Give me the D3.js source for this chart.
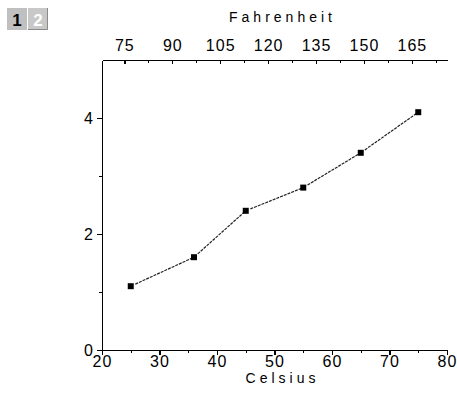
<!DOCTYPE html>
<html>
<head>
<meta charset="utf-8">
<script src="https://cdn.jsdelivr.net/npm/d3@7"></script>
<style>
  body { margin: 0; background: #fff; }
  svg text { font-family: "Liberation Sans", Arial, sans-serif; fill: #000; }
  .axis path, .axis line { stroke: #000; stroke-width: 1.3; shape-rendering: crispEdges; }
  .axis text { font-size: 16px; letter-spacing: 1px; }
  .title { font-size: 14px; letter-spacing: 4px; }
</style>
</head>
<body>
<svg id="chart" width="457" height="398"></svg>
<script>
// data
var celsius = [25, 36, 45, 55, 65, 75];
var values = [1.1, 1.6, 2.4, 2.8, 3.4, 4.1];
var celsiusTicks = [20, 30, 40, 50, 60, 70, 80];
var fahrenheitTicks = [75, 90, 105, 120, 135, 150, 165];
var yTicks = [0, 2, 4];
var pages = ["1", "2"];

var margin = {top: 60, right: 10, bottom: 48, left: 102};
var width = 447 - margin.left;
var height = 350 - margin.top;

var svg = d3.select("#chart");
var g = svg.append("g")
  .attr("transform", "translate(" + margin.left + "," + margin.top + ")");

var x = d3.scaleLinear().domain([20, 80]).range([0, width]);
var xF = d3.scaleLinear().domain([68, 176]).range([0, width]);
var y = d3.scaleLinear().domain([0, 5]).range([height, 0]);

// minor ticks first, then labelled ones
g.append("g").attr("class", "axis")
  .attr("transform", "translate(0," + height + ")")
  .call(d3.axisBottom(x).tickValues(d3.range(25, 80, 10)).tickSize(3).tickSizeOuter(0).tickFormat(""));
g.append("g").attr("class", "axis")
  .attr("transform", "translate(0," + height + ")")
  .call(d3.axisBottom(x).tickValues(celsiusTicks).tickSize(5).tickSizeOuter(0).tickPadding(1));

g.append("g").attr("class", "axis")
  .call(d3.axisTop(xF).tickValues(d3.range(82.5, 176, 15)).tickSize(-3).tickSizeOuter(0).tickFormat(""));
g.append("g").attr("class", "axis")
  .call(d3.axisTop(xF).tickValues(fahrenheitTicks).tickSize(-4).tickSizeOuter(0).tickPadding(9));

g.append("g").attr("class", "axis")
  .call(d3.axisLeft(y).tickValues([1, 3]).tickSize(3).tickSizeOuter(0).tickFormat(""));
g.append("g").attr("class", "axis")
  .call(d3.axisLeft(y).tickValues(yTicks).tickSize(5).tickSizeOuter(0).tickPadding(3).tickFormat(d3.format("d")));

g.append("text").attr("class", "title")
  .attr("text-anchor", "middle")
  .attr("x", width / 2 + 8).attr("y", -38)
  .text("Fahrenheit");

g.append("text").attr("class", "title")
  .attr("text-anchor", "middle")
  .attr("x", width / 2 + 8).attr("y", height + 33)
  .text("Celsius");

// line segments, each starting a little away from the previous marker
var pts = celsius.map(function(c, i) { return [x(c), y(values[i])]; });
for (var i = 1; i < pts.length; i++) {
  var a = pts[i - 1], b = pts[i];
  var dx = b[0] - a[0], dy = b[1] - a[1];
  var len = Math.sqrt(dx * dx + dy * dy);
  var gap = 5 / len;
  g.append("line")
    .attr("x1", a[0] + dx * gap).attr("y1", a[1] + dy * gap)
    .attr("x2", b[0]).attr("y2", b[1])
    .attr("stroke", "#222")
    .attr("stroke-width", 1.2)
    .attr("stroke-dasharray", "3,1");
}

g.selectAll("rect.pt")
  .data(celsius)
  .enter().append("rect")
  .attr("class", "pt")
  .attr("x", function(d) { return x(d) - 3; })
  .attr("y", function(d, i) { return y(values[i]) - 3; })
  .attr("width", 6)
  .attr("height", 6)
  .attr("fill", "#000");

// page buttons
var btn = svg.selectAll("g.btn")
  .data(pages)
  .enter().append("g")
  .attr("class", "btn")
  .attr("transform", function(d, i) { return "translate(" + (7 + i * 21) + ",8)"; });
btn.append("rect")
  .attr("width", 20).attr("height", 22)
  .attr("fill", function(d, i) { return i === 0 ? "#c0c0c0" : "#c8c8c8"; });
btn.filter(function(d, i) { return i === 1; }).append("path")
  .attr("d", "M19.5,0V21.5H0")
  .attr("fill", "none")
  .attr("stroke", "#8a8a8a");
btn.append("text")
  .attr("x", 10).attr("y", 18)
  .attr("text-anchor", "middle")
  .attr("font-size", "17px")
  .attr("font-weight", "bold")
  .style("fill", function(d, i) { return i === 0 ? "#000" : "#fff"; })
  .text(function(d) { return d; });
</script>
</body>
</html>
